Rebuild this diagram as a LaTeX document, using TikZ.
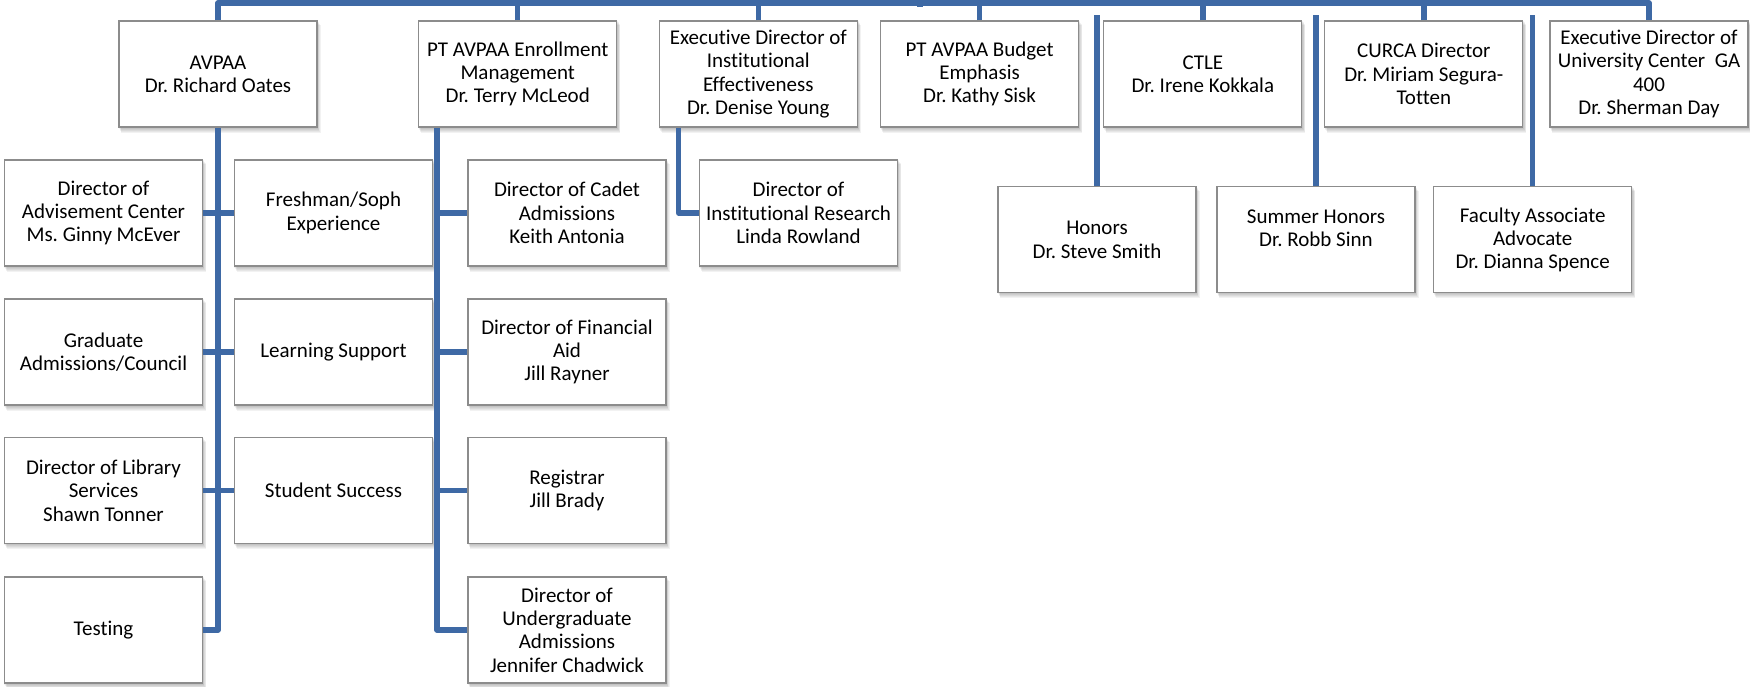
\documentclass[tikz,border=0pt]{standalone}
\usepackage{fontspec}
\setmainfont[RawFeature={-liga;-dlig;-clig}]{Carlito}
\usetikzlibrary{calc,backgrounds}
\definecolor{linkblue}{RGB}{62,105,165}
\definecolor{boxline}{RGB}{140,140,140}
\frenchspacing
\begin{document}
\begin{tikzpicture}[x=1pt,y=-1pt,
  box/.style={draw=boxline,line width=1.3pt,fill=white,minimum width=198pt,minimum height=106pt,
    inner xsep=2pt,inner ysep=0pt,align=center,font=\fontsize{21}{23.3}\selectfont},
  link/.style={draw=linkblue,line width=5.5pt,line join=round}]
\useasboundingbox (0,0) rectangle (1750,686);
% top row
\node[box] (avpaa) at (218,74) {AVPAA\\Dr. Richard Oates};
\node[box] (pt) at (517.7,74) {PT AVPAA Enrollment\\Management\\Dr. Terry McLeod};
\node[box] (ie) at (758.3,74) {Executive Director of\\Institutional\\Effectiveness\\Dr. Denise Young};
\node[box] (budget) at (979.6,74) {PT AVPAA Budget\\Emphasis\\Dr. Kathy Sisk};
\node[box] (ctle) at (1202.8,74) {CTLE\\Dr. Irene Kokkala};
\node[box] (curca) at (1423.8,74) {CURCA Director\\Dr. Miriam Segura-\\Totten};
\node[box] (uc) at (1649,74) {Executive Director of\\University Center\ \ GA\\400\\Dr. Sherman Day};
% AVPAA children
\node[box] (adv) at (103.5,213) {Director of\\Advisement Center\\Ms. Ginny McEver};
\node[box] (fresh) at (333.5,213) {Freshman/Soph\\Experience};
\node[box] (grad) at (103.5,352) {Graduate\\Admissions/Council};
\node[box] (learn) at (333.5,352) {Learning Support};
\node[box] (library) at (103.5,490.5) {Director of Library\\Services\\Shawn Tonner};
\node[box] (success) at (333.5,490.5) {Student Success};
\node[box] (testing) at (103.5,630) {Testing};
% PT AVPAA children
\node[box] (cadet) at (567,213) {Director of Cadet\\Admissions\\Keith Antonia};
\node[box] (finaid) at (567,352) {Director of Financial\\Aid\\Jill Rayner};
\node[box] (registrar) at (567,490.5) {Registrar\\Jill Brady};
\node[box] (undergrad) at (567,630) {Director of\\Undergraduate\\Admissions\\Jennifer Chadwick};
% IE child
\node[box] (ir) at (798.5,213) {Director of\\Institutional Research\\Linda Rowland};
% second-level independent boxes
\node[box] (honors) at (1097,239.7) {Honors\\Dr. Steve Smith};
\node[box] (summer) at (1316,239.7) {Summer Honors\\Dr. Robb Sinn\\\mbox{}};
\node[box] (faculty) at (1532.7,239.7) {Faculty Associate\\Advocate\\Dr. Dianna Spence};
% shadows
\begin{scope}[on background layer]
\foreach \n in {avpaa,pt,ie,budget,ctle,curca,uc,adv,fresh,grad,learn,library,success,testing,cadet,finaid,registrar,undergrad,ir,honors,summer,faculty}{
  \foreach \k in {1,...,5}{
    \fill[black,opacity=0.05] ($(\n.north west)+(\k*0.6,\k)$) rectangle ($(\n.south east)+(\k*0.6,\k)$);
  }
}
\end{scope}
% connectors
\path (0,3) coordinate (topY) (0,15) coordinate (gapY);
\coordinate (root) at (920,0);
\draw[link] (avpaa.north) -- (avpaa.north |- topY) -- (uc.north |- topY) -- (uc.north);
\draw[link] (root) -- ++(0,7);
\foreach \n in {pt,ie,budget,ctle,curca}{\draw[link] (\n.north) -- (\n.north |- topY);}
\foreach \n in {honors,summer,faculty}{\draw[link] (\n.north) -- (\n.north |- gapY);}
\draw[link] (avpaa.south) |- (testing.east);
\draw[link] (adv.east) -- (fresh.west);
\draw[link] (grad.east) -- (learn.west);
\draw[link] (library.east) -- (success.west);
\coordinate (ptv) at ($(pt.south west)+(19,0)$);
\draw[link] (ptv) |- (undergrad.west);
\foreach \n in {cadet,finaid,registrar}{\draw[link] (ptv |- \n.west) -- (\n.west);}
\coordinate (iev) at ($(ie.south west)+(20,0)$);
\draw[link] (iev) |- (ir.west);
\end{tikzpicture}
\end{document}
